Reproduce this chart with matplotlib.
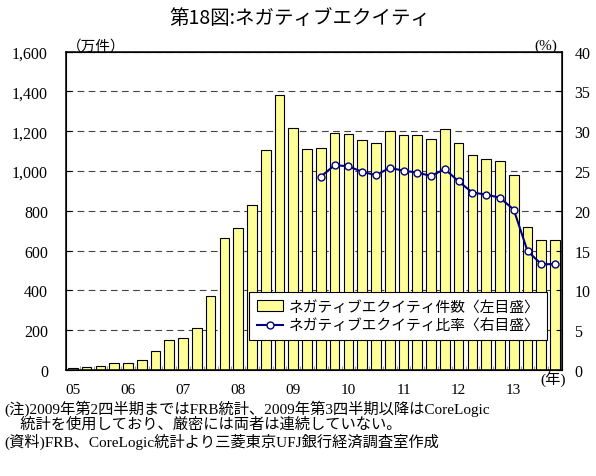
"""第18図: ネガティブエクイティ (件数と比率)."""

import matplotlib
matplotlib.use("Agg")
import matplotlib.pyplot as plt
from matplotlib.lines import Line2D
from matplotlib.patches import Patch

plt.rcParams["font.serif"] = ["Liberation Serif", "DejaVu Serif"]
plt.rcParams["font.family"] = ["serif", "Noto Sans CJK JP"]

# quarterly, 2005Q1 .. 2013Q4
YEAR_LABELS = ["05", "06", "07", "08", "09", "10", "11", "12", "13"]
COUNT = [
    10, 13, 22, 33,
    33, 52, 94, 149,
    162, 209, 370, 662,
    715, 827, 1104, 1384,
    1214, 1111, 1114, 1189,
    1188, 1156, 1139, 1201,
    1181, 1181, 1161, 1211,
    1141, 1080, 1060, 1050,
    980, 720, 652, 652,
]
# ratio starts at 2009Q3 (CoreLogic)
RATIO_START = 18
RATIO = [24.3, 25.75, 25.6, 24.9, 24.5, 25.4, 25.05, 24.8, 24.4,
         25.25, 23.7, 22.3, 22.05, 21.65, 20.15, 14.95, 13.3, 13.3]

BAR_COLOR = "#FFFF99"
LINE_COLOR = "#000080"
JP = ["Noto Sans CJK JP", "DejaVu Sans"]
MIX = ["Liberation Serif", "Noto Sans CJK JP"]

fig = plt.figure(figsize=(5.96, 4.77), dpi=100)
ax = fig.add_axes([0.1107, 0.2222, 0.8322, 0.6673])

x = list(range(len(COUNT)))
ax.bar(x, COUNT, width=0.7, color=BAR_COLOR, edgecolor="black", linewidth=0.8, zorder=2)
ax.set_xlim(-0.5, len(COUNT) - 0.5)
ax.set_ylim(0, 1600)
ax.set_yticks(range(0, 1601, 200))
ax.set_yticklabels([f"{v:,}" for v in range(0, 1601, 200)], fontsize=11.5)
ax.yaxis.grid(True, linestyle=(0, (6, 4)), color="#444444", linewidth=0.8, zorder=1)
ax.tick_params(axis="y", direction="in", length=4, pad=13)

ax.set_xticks(x[::4])
ax.set_xticklabels(YEAR_LABELS, fontsize=11)
ax.set_xticks([v - 0.5 for v in x[1:]], minor=True)
ax.tick_params(axis="x", which="major", length=0, pad=9)
ax.tick_params(axis="x", which="minor", direction="in", length=3, color="#888888")
for sp in ax.spines.values():
    sp.set_linewidth(1.1)

ax2 = ax.twinx()
ax2.set_ylim(0, 40)
ax2.set_yticks(range(0, 41, 5))
ax2.tick_params(axis="y", direction="in", length=4, pad=9, labelsize=11.5)
ax2.plot(x[RATIO_START:], RATIO, color=LINE_COLOR, linewidth=1.5, marker="o",
         markersize=5, markerfacecolor="white", markeredgecolor=LINE_COLOR,
         markeredgewidth=1.0, zorder=3)

handles = [
    Patch(facecolor=BAR_COLOR, edgecolor="black", linewidth=0.8),
    Line2D([], [], color=LINE_COLOR, linewidth=1.5, marker="o", markersize=5,
           markerfacecolor="white", markeredgecolor=LINE_COLOR),
]
leg = ax2.legend(handles, ["ネガティブエクイティ件数〈左目盛〉", "ネガティブエクイティ比率〈右目盛〉"],
                 loc="lower right", bbox_to_anchor=(0.97, 0.094), borderaxespad=0,
                 fancybox=False, framealpha=1, edgecolor="black",
                 prop={"family": JP, "size": 10.6}, handlelength=1.8,
                 handletextpad=0.4, labelspacing=0.35, borderpad=0.5)
leg.get_frame().set_linewidth(0.8)

fig.text(0.503, 0.962, "第18図:ネガティブエクイティ", ha="center", va="center",
         fontsize=14, family=JP)
fig.text(0.113, 0.902, "（万件）", ha="left", va="center", fontsize=10.5, family=JP)
fig.text(0.935, 0.902, "(%)", ha="right", va="center", fontsize=11, family=MIX)
fig.text(0.928, 0.203, "(年)", ha="center", va="center", fontsize=11, family=MIX)

notes = [
    (0.008, 0.144, "(注)2009年第2四半期まではFRB統計、2009年第3四半期以降はCoreLogic"),
    (0.008, 0.110, "　統計を使用しており、厳密には両者は連続していない。"),
    (0.008, 0.073, "(資料)FRB、CoreLogic統計より三菱東京UFJ銀行経済調査室作成"),
]
for nx, ny, s in notes:
    fig.text(nx, ny, s, ha="left", va="center", fontsize=11, family=MIX)

fig.savefig("out.png", dpi=100)
